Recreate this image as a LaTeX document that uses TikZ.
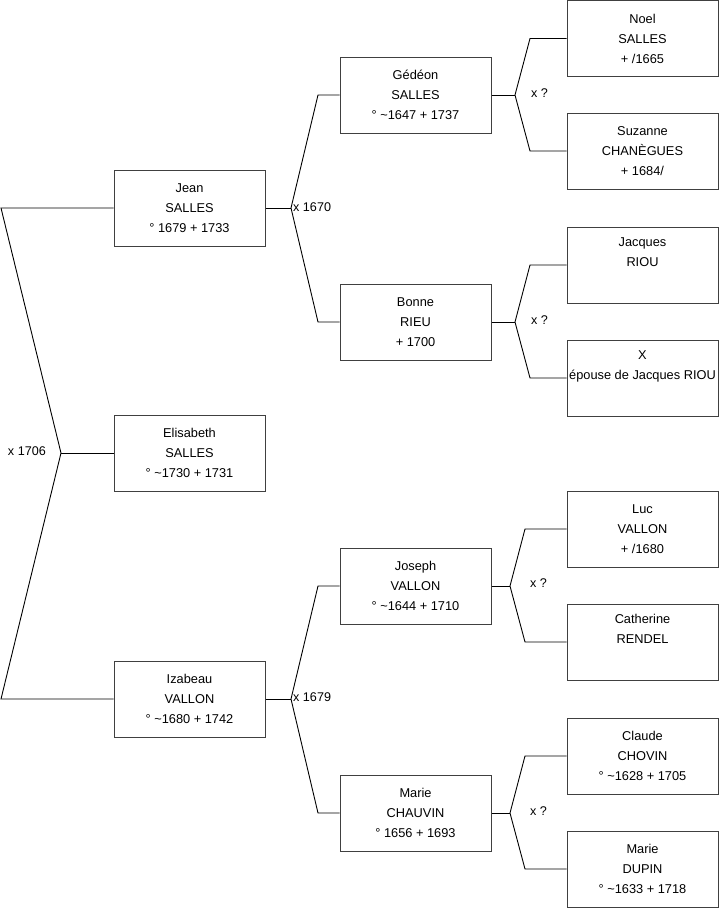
\documentclass[tikz,border=0pt]{standalone}
\usepackage{fontspec}
\setmainfont{Liberation Sans}
\usepackage{tikz}
\usetikzlibrary{positioning}
\definecolor{boxgray}{HTML}{404040}

\tikzset{
  person/.style={draw=boxgray, fill=white, line width=1pt, minimum width=151pt, minimum height=76pt,
    inner sep=0pt, align=center, font=\fontsize{12.8}{20}\selectfont},
  link/.style={draw=black, line width=0.9pt},
  union/.style={inner sep=0pt, font=\fontsize{12.6}{14}\selectfont}
}

\begin{document}
\begin{tikzpicture}[x=1pt, y=-1pt]
  \useasboundingbox (0,0) rectangle (719,908);

  % generation 1
  \node[person] (jean) at (189.5,208) {Jean\\SALLES\\° 1679 + 1733};
  \node[person] (elisabeth) at (189.5,453) {Elisabeth\\SALLES\\° \textasciitilde1730 + 1731};
  \node[person] (izabeau) at (189.5,699) {Izabeau\\VALLON\\° \textasciitilde1680 + 1742};

  % generation 2
  \node[person] (gedeon) at (415.5,95) {Gédéon\\SALLES\\° \textasciitilde1647 + 1737};
  \node[person] (bonne) at (415.5,322) {Bonne\\RIEU\\+ 1700};
  \node[person] (joseph) at (415.5,586) {Joseph\\VALLON\\° \textasciitilde1644 + 1710};
  \node[person] (marie) at (415.5,813) {Marie\\CHAUVIN\\° 1656 + 1693};

  % generation 3
  \node[person] (noel) at (642.5,38.5) {Noel\\SALLES\\ + /1665};
  \node[person] (suzanne) at (642.5,151) {Suzanne\\CHANÈGUES\\+ 1684/};
  \node[person] (jacques) at (642.5,265) {Jacques\\RIOU\\\strut};
  \node[person] (epouse) at (642.5,378) {X\\\makebox[140pt][c]{épouse de Jacques RIOU}\\\strut};
  \node[person] (luc) at (642.5,529) {Luc\\VALLON\\ + /1680};
  \node[person] (catherine) at (642.5,642) {Catherine\\RENDEL\\\strut};
  \node[person] (claude) at (642.5,756) {Claude\\CHOVIN\\° \textasciitilde1628 + 1705};
  \node[person] (dupin) at (642.5,869) {Marie\\DUPIN\\° \textasciitilde1633 + 1718};

  % junction points
  \coordinate (c0) at (61,453);
  \coordinate (c0a) at (1,208);
  \coordinate (c0b) at (1,699);
  \coordinate (c1) at (291,208);
  \coordinate (c1a) at (318,95);
  \coordinate (c1b) at (318,322);
  \coordinate (c2) at (291,699);
  \coordinate (c2a) at (318,586);
  \coordinate (c2b) at (318,813);
  \coordinate (c3) at (515,95);
  \coordinate (c3a) at (530,38.5);
  \coordinate (c3b) at (530,151);
  \coordinate (c4) at (515,322);
  \coordinate (c4a) at (530,265);
  \coordinate (c4b) at (530,378);
  \coordinate (c5) at (510,586);
  \coordinate (c5a) at (525,529);
  \coordinate (c5b) at (525,642);
  \coordinate (c6) at (510,813);
  \coordinate (c6a) at (525,756);
  \coordinate (c6b) at (525,869);

  % connectors
  \draw[link] (jean.west) -- (c0a) -- (c0) -- (c0b) -- (izabeau.west);
  \draw[link] (c0) -- (elisabeth.west);
  \draw[link] (gedeon.west) -- (c1a) -- (c1) -- (c1b) -- (bonne.west);
  \draw[link] (jean.east) -- (c1);
  \draw[link] (joseph.west) -- (c2a) -- (c2) -- (c2b) -- (marie.west);
  \draw[link] (izabeau.east) -- (c2);
  \draw[link] (noel.west) -- (c3a) -- (c3) -- (c3b) -- (suzanne.west);
  \draw[link] (gedeon.east) -- (c3);
  \draw[link] (jacques.west) -- (c4a) -- (c4) -- (c4b) -- (epouse.west);
  \draw[link] (bonne.east) -- (c4);
  \draw[link] (luc.west) -- (c5a) -- (c5) -- (c5b) -- (catherine.west);
  \draw[link] (joseph.east) -- (c5);
  \draw[link] (claude.west) -- (c6a) -- (c6) -- (c6b) -- (dupin.west);
  \draw[link] (marie.east) -- (c6);

  % marriage labels
  \node[union, anchor=east] (u0) at (46,451) {x 1706};
  \node[union, anchor=west] (u1) at (293,207) {x 1670};
  \node[union, anchor=west] (u2) at (293,697) {x 1679};
  \node[union, anchor=west] (u3) at (531,93) {x ?};
  \node[union, anchor=west] (u4) at (531,320) {x ?};
  \node[union, anchor=west] (u5) at (530,583) {x ?};
  \node[union, anchor=west] (u6) at (530,811) {x ?};
\end{tikzpicture}
\end{document}
